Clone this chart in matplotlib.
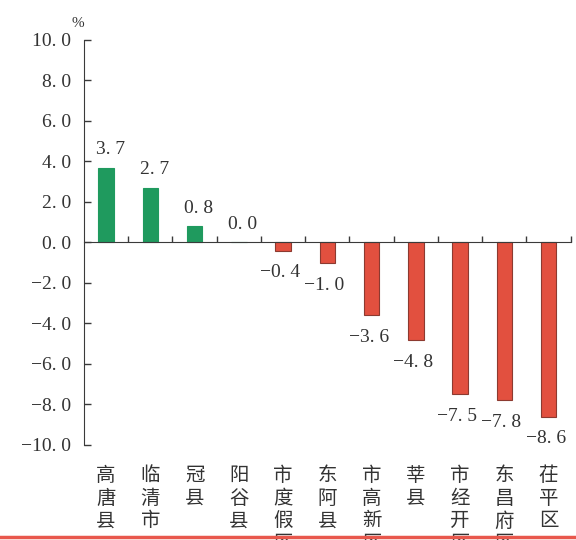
import matplotlib
matplotlib.use("Agg")
import matplotlib.pyplot as plt
from matplotlib.lines import Line2D

# counties / districts and growth rate (%)
counties = ["高唐县", "临清市", "冠县", "阳谷县", "市度假区", "东阿县",
            "市高新区", "莘县", "市经开区", "东昌府区", "茌平区"]
growth = [3.7, 2.7, 0.8, 0.0, -0.4, -1.0, -3.6, -4.8, -7.5, -7.8, -8.6]
y_ticks = [10.0, 8.0, 6.0, 4.0, 2.0, 0.0, -2.0, -4.0, -6.0, -8.0, -10.0]

GREEN = "#1f9a5e"
RED = "#e2503f"
RED_EDGE = "#8c3a30"
AXIS = "#3a3a3a"
NUM_FONT = ["Liberation Serif", "DejaVu Serif"]
CJK_FONT = ["Noto Sans CJK SC", "DejaVu Sans"]


def fmt(v):
    return f"{v:.1f}".replace(".", ". ").replace("-", "\u2212")


def main():
    fig = plt.figure(figsize=(5.76, 5.4), dpi=100)
    ax = fig.add_axes([0.1458, 0.176, 0.845, 0.75])

    x = list(range(len(counties)))
    colors = [GREEN if v >= 0 else RED for v in growth]
    edges = [GREEN if v >= 0 else RED_EDGE for v in growth]
    ax.bar(x, growth, width=0.35, color=colors, edgecolor=edges, linewidth=0.8,
           zorder=2)

    for xi, v in zip(x, growth):
        if v >= 0:
            ax.annotate(fmt(v), (xi, v), xytext=(3, 7), textcoords="offset points",
                        ha="center", va="bottom", fontsize=14, color="#333333",
                        family=NUM_FONT)
        else:
            ax.annotate(fmt(v), (xi, v), xytext=(-2, -10), textcoords="offset points",
                        ha="center", va="top", fontsize=14, color="#333333",
                        family=NUM_FONT)

    ax.set_xlim(-0.5, len(counties) - 0.5)
    ax.set_ylim(-10, 10)

    for s in ["top", "right"]:
        ax.spines[s].set_visible(False)
    ax.spines["bottom"].set_position(("data", 0))
    ax.spines["bottom"].set_color(AXIS)
    ax.spines["left"].set_color(AXIS)

    ax.set_xticks([i + 0.5 for i in x])
    ax.set_xticklabels([])
    ax.tick_params(axis="x", direction="in", length=4, width=1, color=AXIS)

    ax.set_yticks(y_ticks)
    ax.set_yticklabels([fmt(v) for v in y_ticks], family=NUM_FONT, fontsize=14,
                       color="#333333")
    ax.tick_params(axis="y", direction="in", length=5, width=1, color=AXIS,
                   pad=9)

    for xi, name in zip(x, counties):
        ax.text(xi, -0.05, "\n".join(name), transform=ax.get_xaxis_transform(),
                ha="center", va="top", fontsize=14, color="#333333",
                family=CJK_FONT, linespacing=1.1)

    ax.text(-0.012, 1.04, "%", transform=ax.transAxes, ha="center",
            va="center", fontsize=11, color="#333333", family=NUM_FONT)

    fig.add_artist(Line2D([0, 1], [0.006, 0.006], transform=fig.transFigure,
                          color="#e8574c", linewidth=2.5))

    fig.savefig("out.png", dpi=100)
    plt.close(fig)


if __name__ == "__main__":
    main()
